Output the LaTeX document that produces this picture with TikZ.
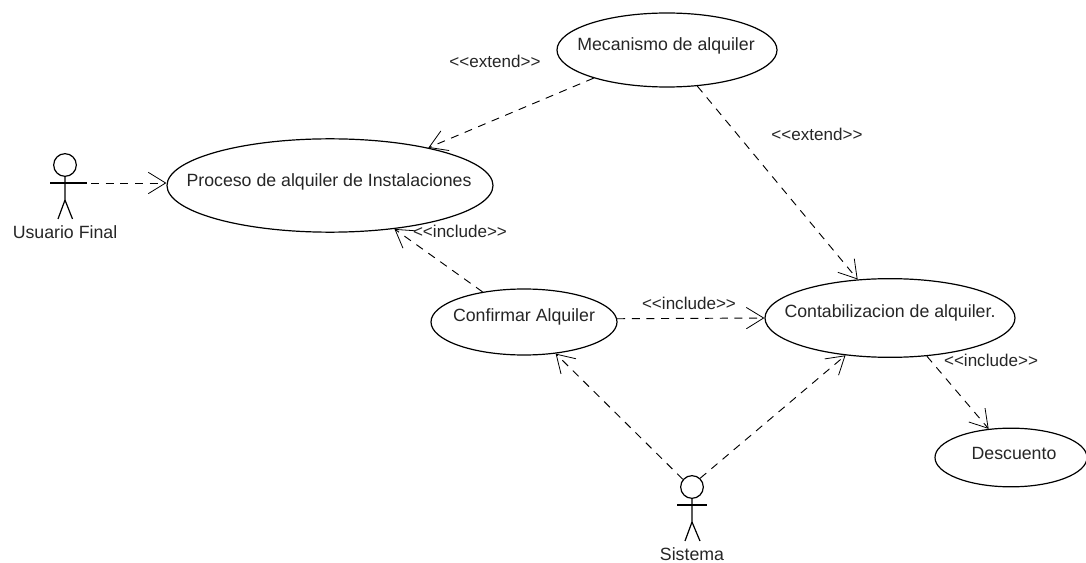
\documentclass[tikz,border=0pt]{standalone}
\usepackage{fontspec}
\setmainfont{Liberation Sans}
\usetikzlibrary{arrows.meta,shapes.geometric}
\newcommand{\ste}[1]{<{}<#1>{}>}
\tikzset{
  x=0.75pt,y=-0.75pt,
  usecase/.style={draw=black,line width=0.9pt,ellipse,inner sep=0pt,minimum width=#1},
  lbl/.style={font=\fontsize{13.3}{15}\selectfont,text=black!85,inner sep=0pt},
  stereo/.style={font=\fontsize{12.8}{14}\selectfont,text=black!85,inner sep=0pt},
  link/.style={draw=black,line width=0.7pt,dash pattern=on 6pt off 5pt,-{Straight Barb[length=13pt,width=16pt,line width=0.6pt]}},
  plain/.style={draw=black,line width=0.9pt},
  head/.style={draw=black,line width=0.9pt,circle,minimum size=17pt,inner sep=0pt},
}
\begin{document}
\begin{tikzpicture}
\useasboundingbox (0,0) rectangle (1086,563);
\fill[white] (0,0) rectangle (1086,563);
\node[usecase=244.5pt,minimum height=70pt] (proc) at (330,185.5) {};
\node[lbl] at (329,182) {Proceso de alquiler de Instalaciones};
\node[usecase=165pt,minimum height=55.5pt] (mec) at (667,50) {};
\node[lbl] at (666,46) {Mecanismo de alquiler};
\node[usecase=139.5pt,minimum height=49.5pt] (conf) at (524,322) {};
\node[lbl] at (524,317) {Confirmar Alquiler};
\node[usecase=187.5pt,minimum height=59pt] (cont) at (890,318) {};
\node[lbl] at (890,313) {Contabilizacion de alquiler.};
\node[usecase=114pt,minimum height=44pt] (desc) at (1011,457.5) {};
\node[lbl] at (1014,453) {Descuento};
\node[head] (a1) at (65,165) {};
\coordinate (a1hip) at (65,200);
\coordinate (a1l) at (58,219);
\coordinate (a1r) at (72.5,219);
\coordinate (a1al) at (50,183);
\coordinate (a1ar) at (87,183);
\draw[plain] (a1.south) -- (a1hip) -- (a1l);
\draw[plain] (a1hip) -- (a1r);
\draw[plain] (a1al) -- (a1ar);
\node[lbl] (a1t) at (65,232) {Usuario Final};
\node[head] (a2) at (692,487) {};
\coordinate (a2hip) at (692,522);
\coordinate (a2l) at (685,541);
\coordinate (a2r) at (700,541);
\coordinate (a2al) at (677,505);
\coordinate (a2ar) at (707,505);
\draw[plain] (a2.south) -- (a2hip) -- (a2l);
\draw[plain] (a2hip) -- (a2r);
\draw[plain] (a2al) -- (a2ar);
\node[lbl] (a2t) at (692,554) {Sistema};
\draw[link,shorten <=3pt] (a1ar) -- (a1ar -| proc.west);
\draw[link] (mec.-159) -- (proc.21.5);
\draw[link] (mec.-50) -- (cont.130);
\draw[link] (conf.144) -- (proc.-34);
\draw[link] (conf.2.5) -- (cont.west);
\draw[link] (cont.-46) -- (desc.128);
\draw[link] (a2.140) -- (conf.-45);
\draw[link] (a2.47) -- (cont.-140);
\node[stereo] (e1) at (495,61) {\ste{extend}};
\node[stereo] (e2) at (817,134) {\ste{extend}};
\node[stereo] (i1) at (460,231) {\ste{include}};
\node[stereo] (i2) at (689,303) {\ste{include}};
\node[stereo] (i3) at (991,360) {\ste{include}};
\end{tikzpicture}
\end{document}
